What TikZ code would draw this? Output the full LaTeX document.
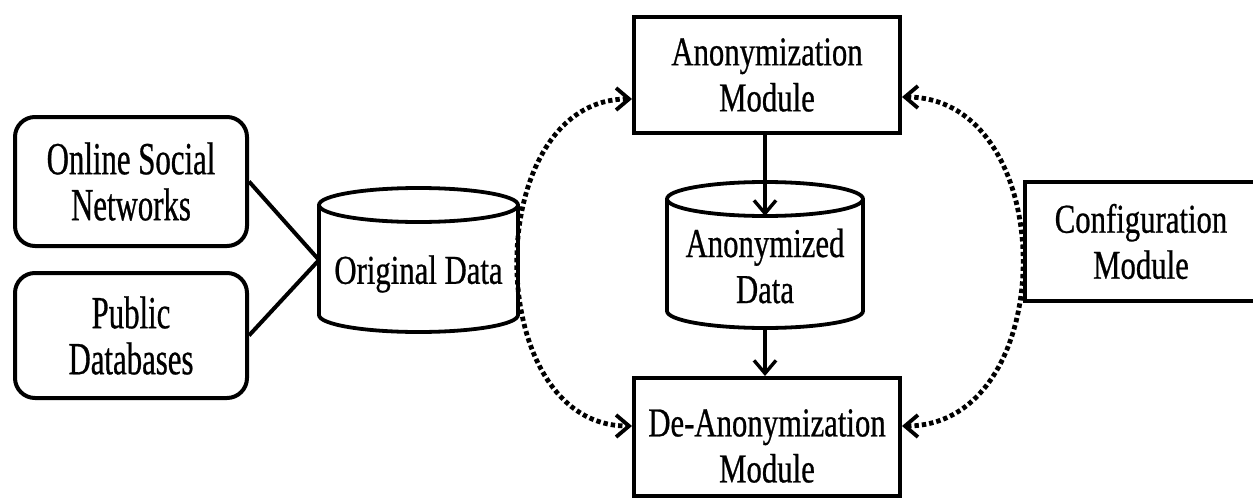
\documentclass[tikz,border=0pt]{standalone}
\usepackage{fontspec}
\setmainfont{Liberation Serif}[FakeStretch=0.75,FakeBold=0.6]
\newfontfamily\srcfont{Liberation Serif}[FakeStretch=0.67,FakeBold=0.6]
\usetikzlibrary{arrows.meta,calc}

% database drum: #1 name, #2 centre x, #3 y of top rim centre, #4 y of bottom rim centre, #5 half width (pt)
\newcommand\dbdrum[5]{%
  \draw[drum] (#2,#3) ellipse[x radius=#5, y radius=8.5pt];
  \draw[drum] ($(#2,#3)+(-#5,0)$) -- ($(#2,#4)+(-#5,0)$)
    arc[start angle=180, end angle=360, x radius=#5, y radius=8.5pt]
    -- ($(#2,#3)+(#5,0)$);
  \coordinate (#1-w) at ($(#2,{(#3+#4)/2})+(-#5,0)$);
  \coordinate (#1-top) at ($(#2,#3)+(0,-8.5pt)$);
  \coordinate (#1-bot) at ($(#2,#4)+(0,-8.5pt)$);
}

\tikzset{
  mainsize/.style={font=\fontsize{20.5pt}{23pt}\selectfont},
  box/.style={draw, line width=2pt, inner sep=0pt, align=center, mainsize},
  srcbox/.style={box, rounded corners=10pt, minimum width=116pt,
    font=\srcfont\fontsize{23pt}{23pt}\selectfont},
  drum/.style={line width=1.9pt},
  wire/.style={line width=2pt},
  tip/.style={Straight Barb[length=6.5pt,width=11pt,line width=1.8pt]},
  flow/.style={line width=1.7pt, -{Straight Barb[length=6.5pt,width=11pt]}},
  link/.style={line width=2.4pt, dash pattern=on 2.2pt off 1.5pt,
    {Straight Barb[length=6.5pt,width=11pt,line width=1.9pt]}-{Straight Barb[length=6.5pt,width=11pt,line width=1.9pt]}},
}

\begin{document}
\begin{tikzpicture}[x=0.5pt,y=-0.5pt]
\useasboundingbox (0,0) rectangle (1253,498);
\clip (0,0) rectangle (1253,498);

% data sources
\node[srcbox, minimum height=64.5pt] (osn) at (131,181.5) {Online Social\\Networks};
\node[srcbox, minimum height=62.5pt] (pd) at (131,335.5) {Public\\Databases};

% data stores
\dbdrum{origdrum}{418.5}{205}{315}{49.75pt}
\node[mainsize] (orig) at (418.5,274) {Original Data};
\dbdrum{anondrum}{765}{199}{311}{49pt}
\node[mainsize, align=center] (anond) at (765,266) {Anonymized\\Data};

% modules
\node[box, minimum width=133pt, minimum height=58pt] (anon) at (767,75) {Anonymization\\Module};
\node[box, minimum width=133pt, minimum height=59pt,
  label={[mainsize, align=center, yshift=-4.5pt]center:De-Anonymization\\Module}] (deanon) at (767,437) {};
\node[box, minimum width=116pt, minimum height=59.5pt] (conf) at (1141,241.5) {Configuration\\Module};

% sources feeding the original data
\draw[wire] (osn.east) -- (origdrum-w);
\draw[wire] (pd.east) -- (origdrum-w);

% anonymization pipeline
\draw[flow] (anondrum-top |- anon.south) -- (anondrum-top);
\draw[flow] (anondrum-bot) -- (anondrum-bot |- deanon.north);

% data and configuration links
\draw[link] ($(anon.west)+(0,24)$) .. controls +(-152,0) and +(-152,0) .. ($(deanon.west)+(0,-11)$);
\draw[link] ($(anon.east)+(0,22)$) .. controls +(160,0) and +(160,0) .. ($(deanon.east)+(0,-11)$);
\end{tikzpicture}
\end{document}
